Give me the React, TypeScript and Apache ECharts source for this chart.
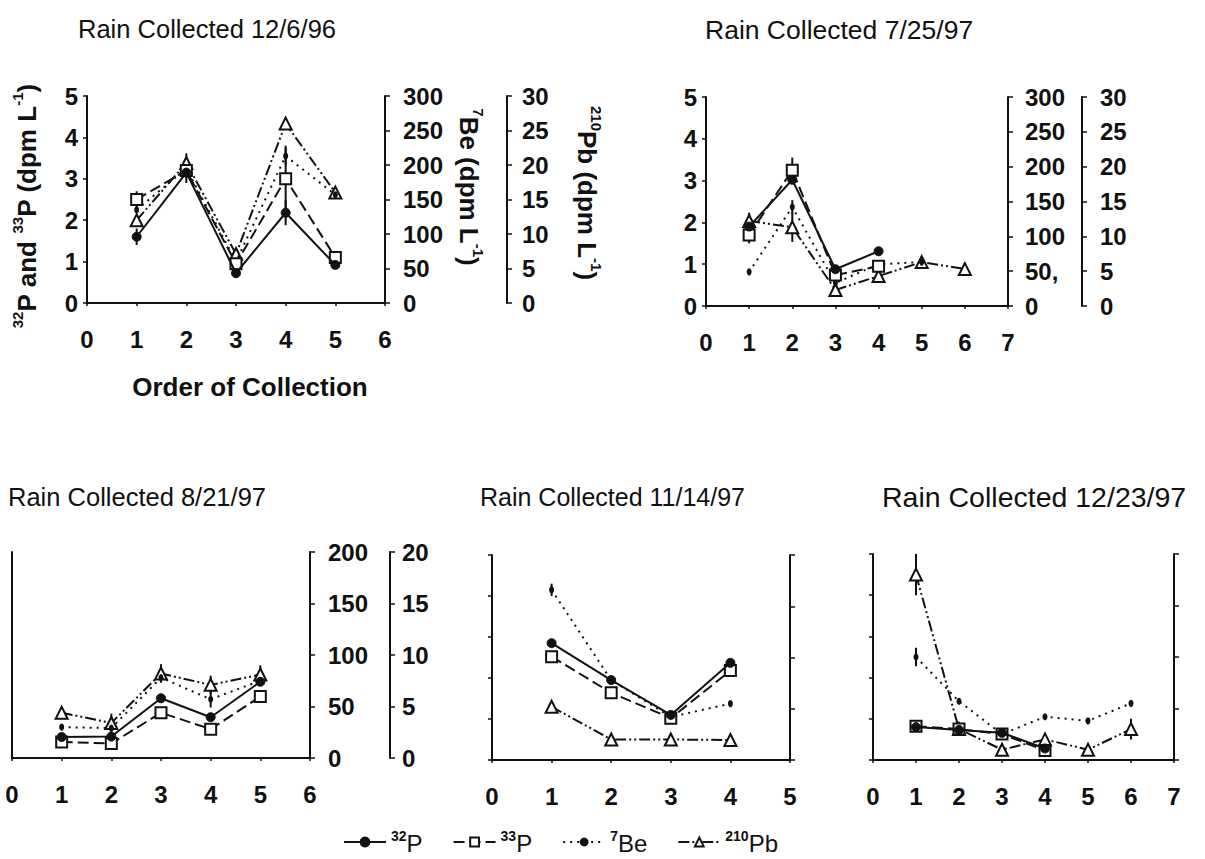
import React, { useEffect, useRef } from 'react';
import * as echarts from 'echarts';

const FONT = '"Liberation Sans", Arial, Helvetica, sans-serif';
const INK = '#111';

// Panel titles
const titles = [
  'Rain Collected 12/6/96',
  'Rain Collected 7/25/97',
  'Rain Collected 8/21/97',
  'Rain Collected 11/14/97',
  'Rain Collected 12/23/97',
];

// 12/6/96 (order of collection 1..5)
const r1_p32 = [1.6, 3.15, 0.72, 2.18, 0.92];
const r1_p33 = [2.5, 3.2, 0.95, 3.0, 1.1];
const r1_be7 = [135, 195, 60, 213, 157];
const r1_pb210 = [12, 20.3, 7.1, 26, 16];
const r1_p32Err = [0.2, null, null, 0.3, null];
const r1_p33Err = [0.2, 0.3, null, 0.8, null];
const r1_be7Err = [null, null, null, 12, null];
const r1_pb210Err = [null, 1.4, null, null, 0.9];

// 7/25/97
const r2_p32 = [1.9, 3.02, 0.88, 1.31];
const r2_p33 = [1.7, 3.25, 0.74, 0.95];
const r2_be7 = [49, 142, 33, 60, 63];
const r2_pb210 = [12.2, 11.3, 2.3, 4.3, 6.3, 5.3];
const r2_p32Err = [null, null, null, null];
const r2_p33Err = [0.2, 0.3, null, null];
const r2_be7Err = [null, 10, null, null, null];
const r2_pb210Err = [1.2, 2.1, 1.0, 1.0, 0.8, 0.8];

// 8/21/97
const r3_p32 = [0.51, 0.52, 1.45, 0.99, 1.85];
const r3_p33 = [0.39, 0.35, 1.1, 0.7, 1.49];
const r3_be7 = [30, 29, 78, 57, 75];
const r3_pb210 = [4.4, 3.4, 8.2, 7.1, 8.1];
const r3_p32Err = [null, null, null, null, null];
const r3_p33Err = [null, null, null, null, null];
const r3_be7Err = [null, null, null, 8, null];
const r3_pb210Err = [null, 0.9, 0.9, 0.9, 0.9];

// 11/14/97
const r4_p32 = [2.85, 1.95, 1.1, 2.37];
const r4_p33 = [2.52, 1.64, 1.02, 2.18];
const r4_be7 = [166, 78, 42, 55];
const r4_pb210 = [5.2, 2.0, 2.0, 1.95];
const r4_p32Err = [null, null, null, null];
const r4_p33Err = [null, null, null, null];
const r4_be7Err = [6, null, null, null];
const r4_pb210Err = [null, null, null, null];

// 12/23/97
const r5_p32 = [0.8, 0.73, 0.66, 0.28];
const r5_p33 = [0.82, 0.75, 0.63, 0.23];
const r5_be7 = [100, 57, 25, 42, 38, 55];
const r5_pb210 = [18, 3.0, 1.0, 2.0, 1.0, 3.0];
const r5_p32Err = [null, null, null, null];
const r5_p33Err = [null, null, null, null];
const r5_be7Err = [9, null, null, null, null, null];
const r5_pb210Err = [2.0, null, null, null, null, 1.0];

// Axis ranges per panel
const xMaxes = [6, 7, 6, 5, 7];
const be7Maxes = [300, 300, 200, 200, 200];
const pb210Maxes = [30, 30, 20, 20, 20];

const events = [
  { p32: r1_p32, p33: r1_p33, be7: r1_be7, pb210: r1_pb210, e32: r1_p32Err, e33: r1_p33Err, eBe: r1_be7Err, ePb: r1_pb210Err },
  { p32: r2_p32, p33: r2_p33, be7: r2_be7, pb210: r2_pb210, e32: r2_p32Err, e33: r2_p33Err, eBe: r2_be7Err, ePb: r2_pb210Err },
  { p32: r3_p32, p33: r3_p33, be7: r3_be7, pb210: r3_pb210, e32: r3_p32Err, e33: r3_p33Err, eBe: r3_be7Err, ePb: r3_pb210Err },
  { p32: r4_p32, p33: r4_p33, be7: r4_be7, pb210: r4_pb210, e32: r4_p32Err, e33: r4_p33Err, eBe: r4_be7Err, ePb: r4_pb210Err },
  { p32: r5_p32, p33: r5_p33, be7: r5_be7, pb210: r5_pb210, e32: r5_p32Err, e33: r5_p33Err, eBe: r5_be7Err, ePb: r5_pb210Err },
];

// Plot boxes (pixels) and axis decorations
const layout = [
  { left: 87, top: 96, width: 298, height: 207, leftLabels: true, rightLabels: true, pbAxis: true, pbOffset: 122, beMargin: 18, pbMargin: 15, leftTicks: true },
  { left: 706, top: 97, width: 302, height: 209, leftLabels: true, rightLabels: true, pbAxis: true, pbOffset: 74, beMargin: 17, pbMargin: 18, leftTicks: true },
  { left: 12, top: 552, width: 298, height: 206, leftLabels: false, rightLabels: true, pbAxis: true, pbOffset: 80, beMargin: 18, pbMargin: 12, leftTicks: false },
  { left: 492, top: 555, width: 298, height: 205, leftLabels: false, rightLabels: false, pbAxis: false, pbOffset: 0, beMargin: 18, pbMargin: 15, leftTicks: true },
  { left: 873, top: 554, width: 301, height: 206, leftLabels: false, rightLabels: false, pbAxis: false, pbOffset: 0, beMargin: 18, pbMargin: 15, leftTicks: true },
];
const titlePos = [
  { left: 78, top: 16, size: 25.5 },
  { left: 705, top: 16, size: 26.5 },
  { left: 8, top: 484, size: 25.5 },
  { left: 480, top: 484, size: 25 },
  { left: 882, top: 482, size: 28.5 },
];

const seriesNames = ['32P', '33P', '7Be', '210Pb'];
const legendRich: Record<string, string> = {
  '32P': '{s|32}{b|P}',
  '33P': '{s|33}{b|P}',
  '7Be': '{s|7}{b|Be}',
  '210Pb': '{s|210}{b|Pb}',
};

const tickFont = { fontFamily: FONT, fontSize: 24, fontWeight: 'bold' as const, color: INK };
const axisLine = { show: true, lineStyle: { color: INK, width: 2 } };

const styles: Record<string, any> = {
  '32P': {
    symbol: 'circle', symbolSize: 9,
    itemStyle: { color: INK, borderColor: INK, borderWidth: 1 },
    lineStyle: { color: INK, width: 2, type: 'solid' },
  },
  '33P': {
    symbol: 'rect', symbolSize: 11,
    itemStyle: { color: '#fff', borderColor: INK, borderWidth: 2 },
    lineStyle: { color: INK, width: 2, type: [11, 5] },
  },
  '7Be': {
    symbol: 'circle', symbolSize: [5, 7],
    itemStyle: { color: INK, borderColor: INK, borderWidth: 0 },
    lineStyle: { color: INK, width: 2, type: [2, 5] },
  },
  '210Pb': {
    symbol: 'triangle', symbolSize: 12,
    itemStyle: { color: '#fff', borderColor: INK, borderWidth: 2 },
    lineStyle: { color: INK, width: 2, type: [11, 3, 2, 3, 2, 3] },
  },
};

function toPairs(vals: (number | null)[]) {
  return vals.map((v, i) => (v == null ? null : [i + 1, v])).filter((d) => d != null);
}

function toErrorBars(vals: (number | null)[], errs: (number | null)[]) {
  const out: number[][] = [];
  vals.forEach((v, i) => {
    const e = errs[i];
    if (v != null && e != null) out.push([i + 1, v - e, v + e]);
  });
  return out;
}

function renderErrorBar(params: any, api: any) {
  const lo = api.coord([api.value(0), api.value(1)]);
  const hi = api.coord([api.value(0), api.value(2)]);
  return {
    type: 'line',
    shape: { x1: lo[0], y1: lo[1], x2: hi[0], y2: hi[1] },
    style: { stroke: INK, lineWidth: 2 },
  };
}

function buildOption() {
  const grid: any[] = [];
  const xAxis: any[] = [];
  const yAxis: any[] = [];
  const series: any[] = [];

  layout.forEach((L, i) => {
    grid.push({ left: L.left, top: L.top, width: L.width, height: L.height, containLabel: false });
    xAxis.push({
      type: 'value', gridIndex: i, min: 0, max: xMaxes[i], interval: 1,
      axisLine, splitLine: { show: false },
      axisTick: { show: true, length: 3, lineStyle: { color: INK, width: 1.5 } },
      axisLabel: { ...tickFont, margin: 24 },
    });
    // 32P / 33P scale
    yAxis.push({
      type: 'value', gridIndex: i, position: 'left', min: 0, max: 5, interval: 1,
      axisLine, splitLine: { show: false },
      axisTick: { show: L.leftTicks, length: 4, lineStyle: { color: INK, width: 1.5 } },
      axisLabel: { show: L.leftLabels, ...tickFont, margin: 9 },
    });
    // 7Be scale
    yAxis.push({
      type: 'value', gridIndex: i, position: 'right', min: 0, max: be7Maxes[i], interval: 50,
      axisLine, splitLine: { show: false },
      axisTick: { show: true, length: 5, lineStyle: { color: INK, width: 1.5 } },
      axisLabel: {
        show: L.rightLabels, ...tickFont, margin: L.beMargin,
        formatter: (v: number) => (i === 1 && v === 50 ? '50,' : String(v)),
      },
    });
    // 210Pb scale
    yAxis.push({
      type: 'value', gridIndex: i, position: 'right', offset: L.pbOffset,
      min: 0, max: pb210Maxes[i], interval: 5,
      show: L.pbAxis,
      axisLine, splitLine: { show: false },
      axisTick: { show: true, length: 5, lineStyle: { color: INK, width: 1.5 } },
      axisLabel: { show: L.rightLabels, ...tickFont, margin: L.pbMargin },
    });

    const ev = events[i];
    const sets: [string, (number | null)[], (number | null)[], number][] = [
      ['210Pb', ev.pb210, ev.ePb, 3 * i + 2],
      ['7Be', ev.be7, ev.eBe, 3 * i + 1],
      ['33P', ev.p33, ev.e33, 3 * i],
      ['32P', ev.p32, ev.e32, 3 * i],
    ];
    sets.forEach(([name, vals, errs, yIdx], k) => {
      const bars = toErrorBars(vals, errs);
      if (bars.length) {
        series.push({
          type: 'custom', name: name + ' error', xAxisIndex: i, yAxisIndex: yIdx,
          data: bars, renderItem: renderErrorBar, encode: { x: 0, y: [1, 2] }, z: 1, silent: true,
        });
      }
      series.push({
        type: 'line', name, xAxisIndex: i, yAxisIndex: yIdx,
        data: toPairs(vals), z: 3 + k, ...styles[name],
      });
    });
  });

  const richBase = {
    b: { fontFamily: FONT, fontSize: 26, fontWeight: 'bold', fill: INK, color: INK, verticalAlign: 'bottom', lineHeight: 30 },
    s: { fontFamily: FONT, fontSize: 15, fontWeight: 'bold', fill: INK, color: INK, verticalAlign: 'top', lineHeight: 16 },
  };

  return {
    animation: false,
    backgroundColor: '#fff',
    title: titles.map((t, i) => ({
      text: t, left: titlePos[i].left, top: titlePos[i].top, padding: 0,
      textStyle: { fontFamily: FONT, fontSize: titlePos[i].size, fontWeight: 'normal', color: INK },
    })),
    legend: {
      data: seriesNames, left: 338, top: 824, itemWidth: 42, itemHeight: 11, itemGap: 30,
      formatter: (name: string) => legendRich[name],
      textStyle: {
        color: INK,
        rich: {
          b: { fontFamily: FONT, fontSize: 24, fontWeight: 'normal', color: INK, verticalAlign: 'bottom', lineHeight: 26 },
          s: { fontFamily: FONT, fontSize: 14, fontWeight: 'bold', color: INK, verticalAlign: 'top', lineHeight: 14 },
        },
      },
    },
    grid, xAxis, yAxis, series,
    graphic: [
      {
        type: 'text', x: 25, y: 206, rotation: Math.PI / 2,
        style: {
          text: '{s|32}{b|P and }{s|33}{b|P (dpm L}{s|-1}{b|)}', rich: richBase,
          align: 'center', verticalAlign: 'middle',
        },
      },
      {
        type: 'text', x: 471, y: 187, rotation: -Math.PI / 2,
        style: {
          text: '{s|7}{b|Be (dpm L}{s|-1}{b|)}', rich: richBase,
          align: 'center', verticalAlign: 'middle',
        },
      },
      {
        type: 'text', x: 589, y: 193, rotation: -Math.PI / 2,
        style: {
          text: '{s|210}{b|Pb (dpm L}{s|-1}{b|)}', rich: richBase,
          align: 'center', verticalAlign: 'middle',
        },
      },
      {
        type: 'text', x: 250, y: 387,
        style: {
          text: 'Order of Collection', fontFamily: FONT, fontSize: 26, fontWeight: 'bold', fill: INK,
          align: 'center', verticalAlign: 'middle',
        },
      },
    ],
  };
}

export default function App() {
  const ref = useRef<HTMLDivElement>(null);
  useEffect(() => {
    if (!ref.current) return;
    const chart = echarts.init(ref.current, undefined, { renderer: 'svg' });
    chart.setOption(buildOption() as any);
    return () => chart.dispose();
  }, []);
  return (
    <div
      ref={ref}
      style={{ position: 'absolute', left: 0, top: 0, width: 1205, height: 859, background: '#fff' }}
    />
  );
}
